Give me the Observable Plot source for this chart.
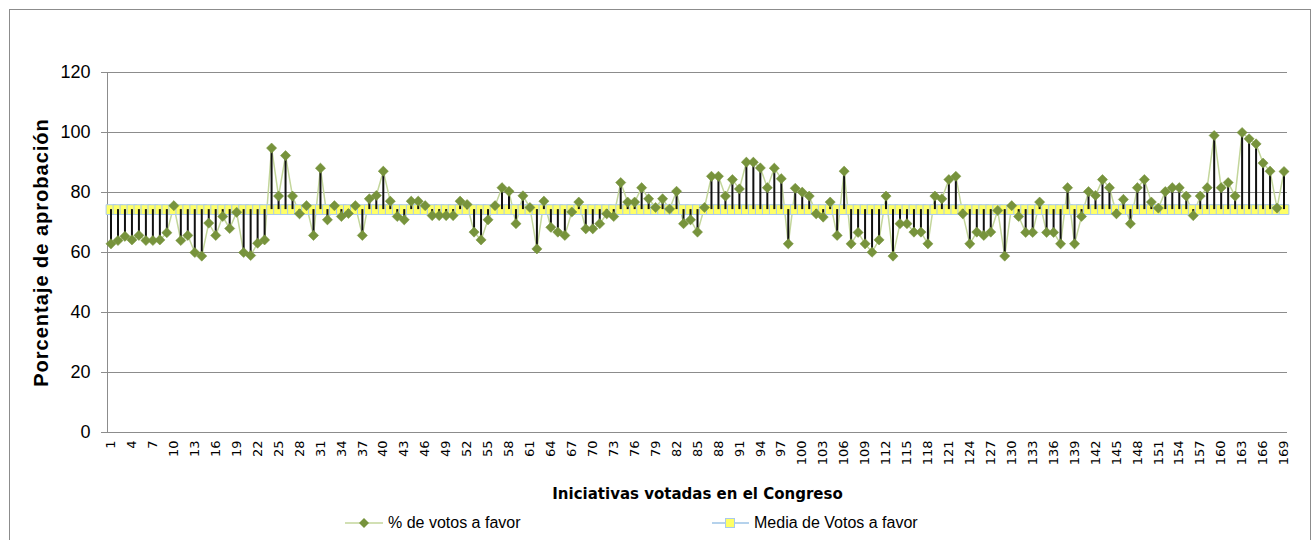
<!DOCTYPE html>
<html><head><meta charset="utf-8">
<script src="https://cdn.jsdelivr.net/npm/d3@7"></script>
<script src="https://cdn.jsdelivr.net/npm/@observablehq/plot@0.6"></script>
<style>
body{margin:0;background:#fff;font-family:"Liberation Sans",Arial,sans-serif;}
#wrap{position:relative;width:1315px;height:540px;overflow:hidden;background:#fff;}
#frame{position:absolute;left:9px;top:9px;width:1302px;height:600px;border:1px solid #8c8c8c;box-sizing:border-box;}
#chart{position:absolute;left:0;top:0;}
#legend{position:absolute;top:511px;left:0;width:1315px;height:24px;font-size:16px;color:#000;}
.item{position:absolute;top:0;height:24px;display:flex;align-items:center;white-space:nowrap;}
.item svg{margin-right:5px;}
</style></head><body>
<div id="wrap"><div id="frame"></div><div id="chart"></div><div id="legend"></div></div>
<script>
// Categories: initiatives 1..169
const iniciativas = d3.range(1, 170);
// % de votos a favor
const votosAFavor = [
 62.9,64.0,65.4,64.2,65.7,64.0,64.0,64.2,66.6,75.6,
 64.0,65.7,60.0,58.8,69.8,65.7,72.0,68.0,73.4,60.0,
 59.0,63.1,64.2,94.8,78.8,92.3,78.8,72.9,75.6,65.7,
 88.1,70.9,75.6,72.0,73.0,75.6,65.7,77.9,79.0,87.1,
 77.1,72.0,70.9,77.1,77.1,75.6,72.3,72.3,72.3,72.3,
 77.1,76.0,66.8,64.2,70.9,75.6,81.6,80.4,69.6,78.9,
 75.0,61.2,77.1,68.4,66.8,65.7,73.5,76.8,67.9,67.9,
 69.6,72.9,72.0,83.3,76.8,76.8,81.6,77.9,75.0,77.9,
 74.5,80.4,69.6,70.9,66.8,75.0,85.4,85.4,78.8,84.3,
 81.2,90.1,90.1,88.2,81.6,88.1,84.6,62.9,81.4,80.1,
 78.8,72.9,71.8,76.8,65.7,87.1,62.9,66.7,62.9,60.1,
 64.2,78.8,58.8,69.6,69.6,66.8,66.8,62.9,78.8,77.9,
 84.3,85.4,72.9,62.9,66.8,65.7,66.8,74.0,58.8,75.6,
 72.0,66.7,66.7,76.8,66.7,66.7,62.9,81.6,62.9,72.0,
 80.3,79.0,84.3,81.6,72.9,77.7,69.6,81.6,84.3,76.8,
 74.8,80.3,81.6,81.6,78.8,72.3,78.8,81.6,99.0,81.6,
 83.3,78.8,100.0,97.9,96.2,89.8,87.1,74.8,87.0
];
// Media de votos a favor (constant across initiatives)
const mediaVotos = 74.3;
const xTicks = iniciativas.filter((d, i) => i % 3 === 0);
const yTicks = [0, 20, 40, 60, 80, 100, 120];

const data = iniciativas.map((d, i) => ({id: d, votos: votosAFavor[i], media: mediaVotos}));

const font = "Liberation Sans, Arial, sans-serif";
const halfStep = (1315 - 107 - 28) / iniciativas.length / 2;
const chart = Plot.plot({
  width: 1315,
  height: 505,
  marginLeft: 107,
  marginRight: 28,
  marginTop: 72,
  marginBottom: 73,
  style: {fontFamily: font, background: "transparent", overflow: "visible"},
  x: {type: "point", domain: iniciativas, padding: 0.5},
  y: {domain: [0, 120]},
  marks: [
    Plot.ruleY(yTicks.filter(d => d > 0), {stroke: "#8c8c8c", strokeWidth: 1, strokeOpacity: 1, insetLeft: -6}),
    Plot.ruleY([0], {stroke: "#8c8c8c", strokeWidth: 1, insetLeft: -6}),
    Plot.ruleX([iniciativas[0]], {dx: -halfStep, y1: 0, y2: 120, stroke: "#8c8c8c", strokeWidth: 1}),
    Plot.axisY({ticks: yTicks, tickSize: 0, tickPadding: 17, fontSize: 18, fontFamily: font, fill: "#000",
      label: "Porcentaje de aprobación", labelAnchor: "center", labelArrow: "none", labelOffset: 74}),
    Plot.axisX({ticks: xTicks, tickSize: 0, tickPadding: 8, tickRotate: -90, fontSize: 13, fontFamily: "DejaVu Sans, sans-serif", fill: "#000",
      label: "Iniciativas votadas en el Congreso", labelAnchor: "center", labelArrow: "none", labelOffset: 66}),
    Plot.line(data, {x: "id", y: "votos", stroke: "#c3d69b", strokeWidth: 1.5}),
    Plot.line(data, {x: "id", y: "media", stroke: "#9dc3e6", strokeWidth: 1.5}),
    Plot.dot(data, {x: "id", y: "media", symbol: "square", r: 5.5, fill: "#ffff66", stroke: "#a9c9ee", strokeWidth: 1}),
    Plot.ruleX(data, {x: "id", y1: "media", y2: "votos", stroke: "#111", strokeWidth: 2}),
    Plot.dot(data, {x: "id", y: "votos", symbol: "diamond2", r: 4.6, fill: "#77933c", stroke: "#77933c", strokeWidth: 0.5})
  ]
});
document.getElementById("chart").appendChild(chart);

const svg = d3.select(chart.tagName === "svg" ? chart : chart.querySelector("svg"));
svg.selectAll('[aria-label="y-axis label"]').attr("font-weight", "bold").style("font-size", "20px").style("letter-spacing", "1px");
svg.selectAll('[aria-label="x-axis label"]').attr("font-weight", "bold").style("font-size", "15px");

// Legend
const legend = document.getElementById("legend");
legend.innerHTML = `
<div class="item" style="left:345px"><svg width="38" height="14"><line x1="0" y1="7" x2="38" y2="7" stroke="#c3d69b" stroke-width="1.5"/><path d="M19,2 L24,7 L19,12 L14,7 Z" fill="#77933c"/></svg><span>% de votos a favor</span></div>
<div class="item" style="left:712px"><svg width="37" height="14"><line x1="0" y1="7" x2="37" y2="7" stroke="#9dc3e6" stroke-width="1.5"/><rect x="13.5" y="2.5" width="9" height="9" fill="#ffff66" stroke="#a9c9ee"/></svg><span>Media de Votos a favor</span></div>`;
</script>
</body></html>
